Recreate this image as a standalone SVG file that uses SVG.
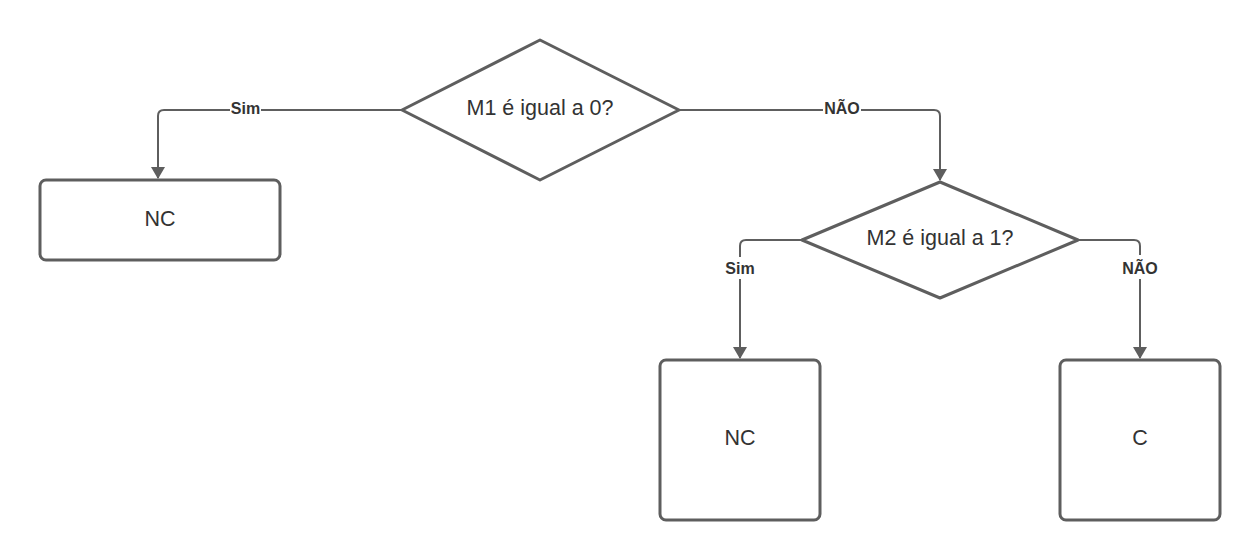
<svg xmlns="http://www.w3.org/2000/svg" width="1260" height="560" viewBox="0 0 1260 560">
<style>
.shape{fill:#fff;stroke:#5e5e5e;stroke-width:3;stroke-linejoin:round}
.conn{fill:none;stroke:#5e5e5e;stroke-width:2}
.t{font-family:"Liberation Sans",Arial,sans-serif;font-size:21.5px;fill:#333;text-anchor:middle;dominant-baseline:central}
.lbl{font-family:"Liberation Sans",Arial,sans-serif;font-size:16px;font-weight:bold;fill:#333;text-anchor:middle;dominant-baseline:central}
.bg{fill:#fff}
</style>
<defs>
<marker id="ah" viewBox="0 0 12 20" refX="11" refY="10" markerWidth="12" markerHeight="20" orient="auto" markerUnits="userSpaceOnUse">
<path d="M0,3 L12,10 L0,17 z" fill="#5e5e5e"/>
</marker>
</defs>
<g id="connectors">
<path class="conn" d="M402,110 H164 Q158,110 158,116 V178" marker-end="url(#ah)"/>
<path class="conn" d="M679,110 H934 Q940,110 940,116 V180" marker-end="url(#ah)"/>
<path class="conn" d="M802,240 H746 Q740,240 740,246 V358" marker-end="url(#ah)"/>
<path class="conn" d="M1078,240 H1134 Q1140,240 1140,246 V358" marker-end="url(#ah)"/>
<rect class="bg" x="230" y="100" width="31" height="18"/>
<text class="lbl" x="245.5" y="108">Sim</text>
<rect class="bg" x="823" y="100" width="38" height="18"/>
<text class="lbl" x="842" y="108">NÃO</text>
<rect class="bg" x="722" y="257" width="36" height="22"/>
<text class="lbl" x="740" y="268">Sim</text>
<rect class="bg" x="1120" y="255" width="40" height="24"/>
<text class="lbl" x="1140" y="268">NÃO</text>
</g>
<g id="d1">
<polygon class="shape" points="540,40 679,110 540,180 402,110"/>
<text class="t" x="540" y="108">M1 é igual a 0?</text>
</g>
<g id="d2">
<polygon class="shape" points="940,182 1078,240 940,298 802,240"/>
<text class="t" x="940" y="238">M2 é igual a 1?</text>
</g>
<g id="n1">
<rect class="shape" x="40" y="180" width="240" height="80" rx="6"/>
<text class="t" x="160" y="219">NC</text>
</g>
<g id="n2">
<rect class="shape" x="660" y="360" width="160" height="160" rx="6"/>
<text class="t" x="740" y="438">NC</text>
</g>
<g id="n3">
<rect class="shape" x="1060" y="360" width="160" height="160" rx="6"/>
<text class="t" x="1140" y="438">C</text>
</g>
</svg>
